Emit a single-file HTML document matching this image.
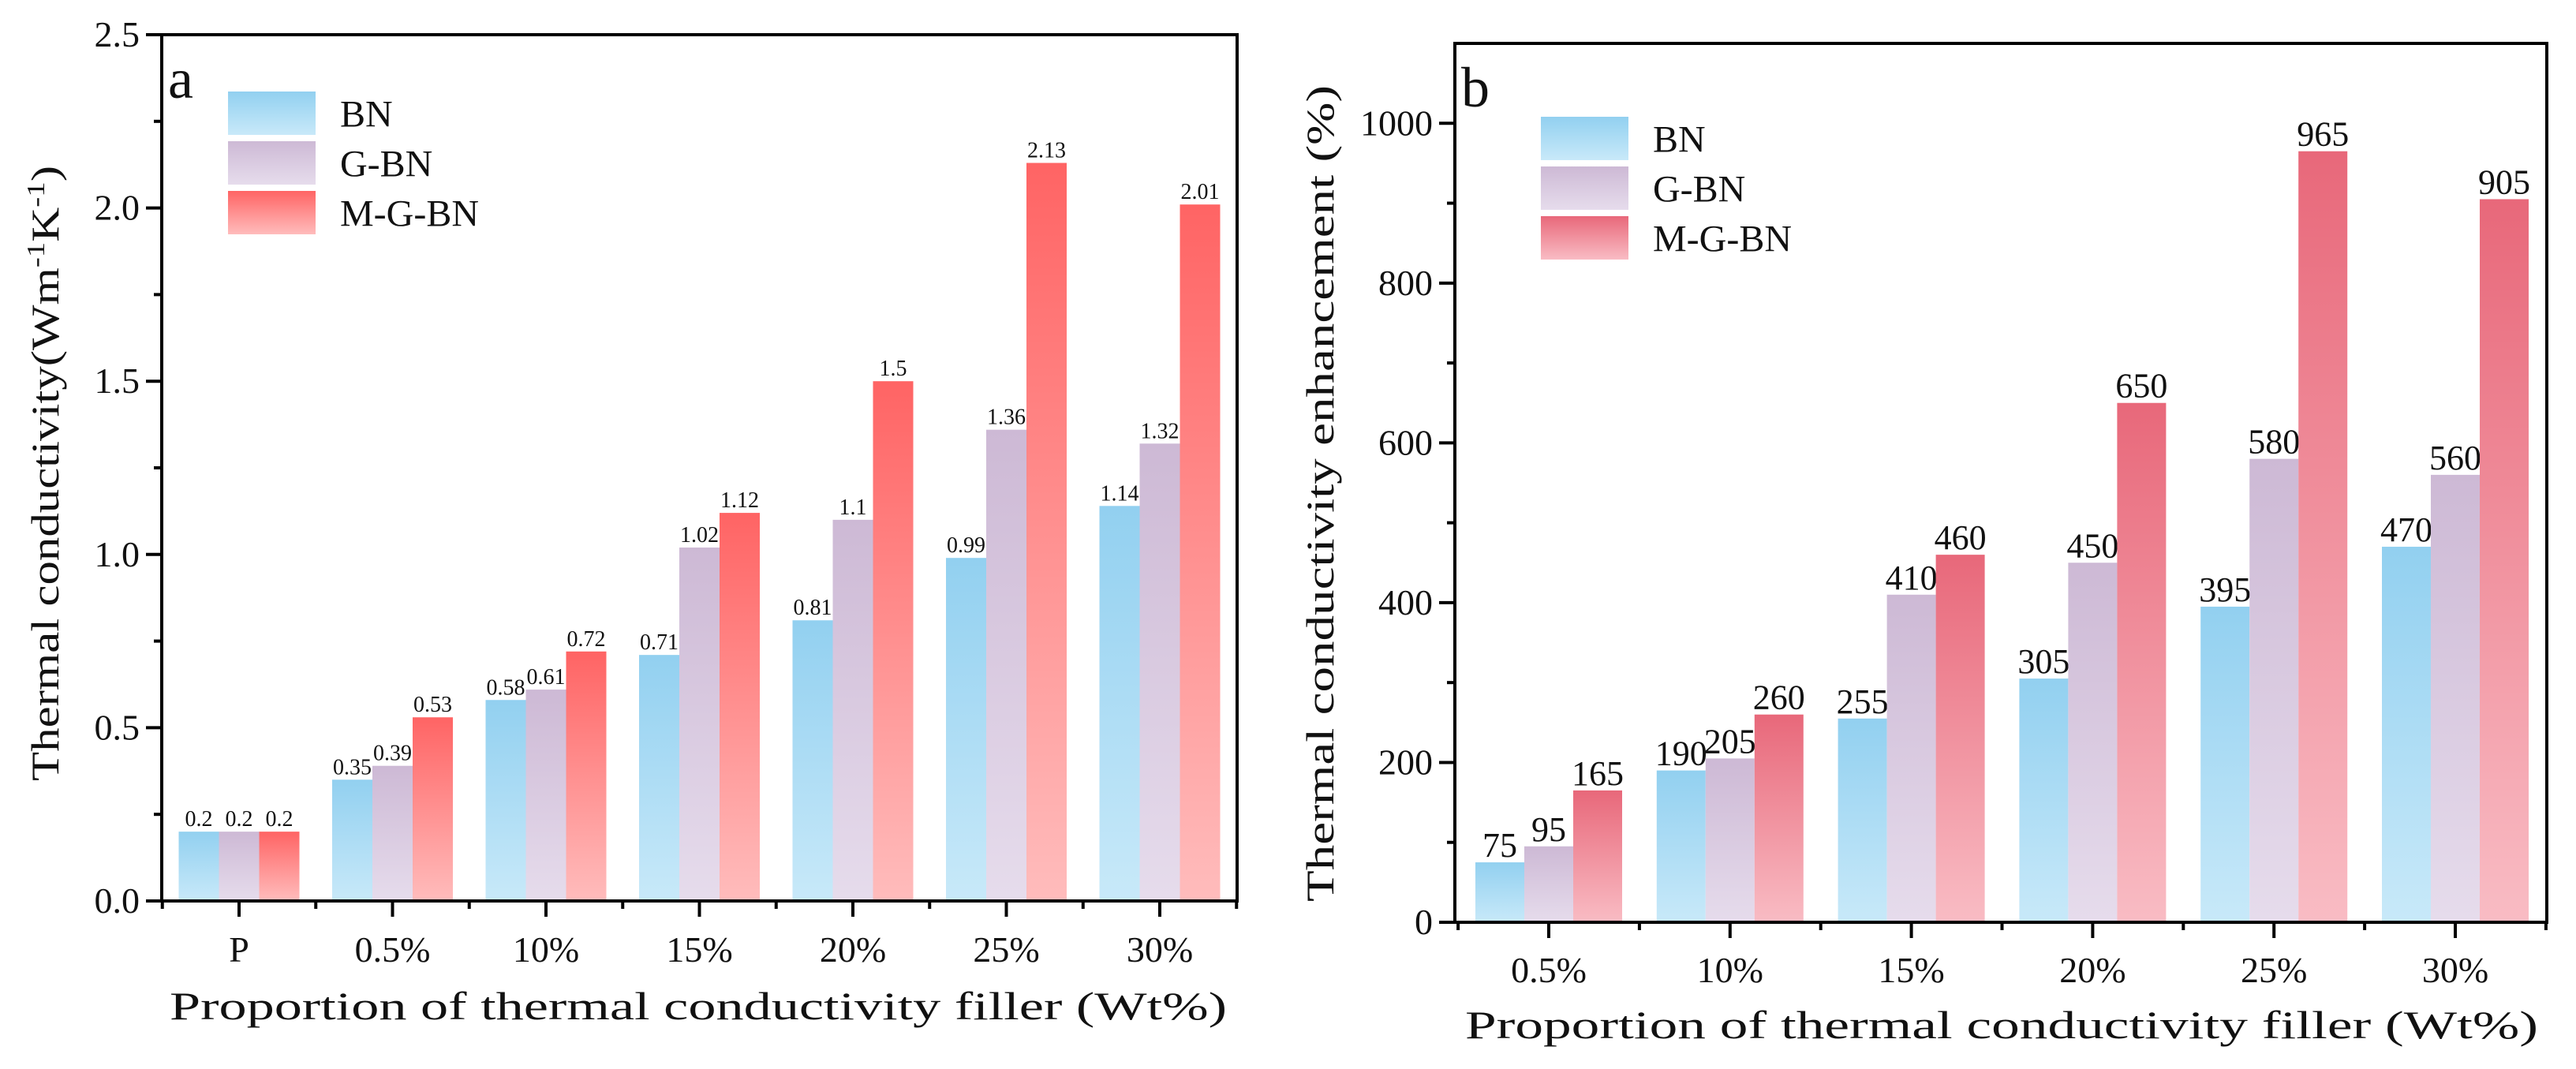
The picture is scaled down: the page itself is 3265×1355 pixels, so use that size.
<!DOCTYPE html>
<html><head><meta charset="utf-8">
<style>
html,body{margin:0;padding:0;background:#fff;}
svg{display:block;}
text{font-family:"Liberation Serif","Noto Serif CJK SC",serif;fill:#111;}
</style></head>
<body>
<svg id="chart" width="3265" height="1355" viewBox="0 0 3265 1355" xmlns="http://www.w3.org/2000/svg">
<defs>
<linearGradient id="gBN" x1="0" y1="0" x2="0" y2="1"><stop offset="0" stop-color="#92d0f0"/><stop offset="1" stop-color="#c8e9f9"/></linearGradient>
<linearGradient id="gGBN" x1="0" y1="0" x2="0" y2="1"><stop offset="0" stop-color="#cdb9d5"/><stop offset="1" stop-color="#e6dcec"/></linearGradient>
<linearGradient id="gMA" x1="0" y1="0" x2="0" y2="1"><stop offset="0" stop-color="#ff6464"/><stop offset="1" stop-color="#ffbcbc"/></linearGradient>
<linearGradient id="gMB" x1="0" y1="0" x2="0" y2="1"><stop offset="0" stop-color="#e8687a"/><stop offset="1" stop-color="#f9bcc4"/></linearGradient>
</defs>
</svg>
<script>
// ---- Chart a data ----
const catsA = ["P","0.5%","10%","15%","20%","25%","30%"];
const bnA = [0.2,0.35,0.58,0.71,0.81,0.99,1.14];
const gbnA = [0.2,0.39,0.61,1.02,1.1,1.36,1.32];
const mgbnA = [0.2,0.53,0.72,1.12,1.5,2.13,2.01];
const ticksA = [0,0.5,1.0,1.5,2.0,2.5];
const tickLabelsA = ["0.0","0.5","1.0","1.5","2.0","2.5"];
// ---- Chart b data ----
const catsB = ["0.5%","10%","15%","20%","25%","30%"];
const bnB = [75,190,255,305,395,470];
const gbnB = [95,205,410,450,580,560];
const mgbnB = [165,260,460,650,965,905];
const ticksB = [0,200,400,600,800,1000];
const tickLabelsB = ["0","200","400","600","800","1000"];
const seriesNames = ["BN","G-BN","M-G-BN"];

const NS="http://www.w3.org/2000/svg";
const svg=document.getElementById('chart');
function el(tag,attrs,parent,txt){const e=document.createElementNS(NS,tag);for(const k in attrs)e.setAttribute(k,attrs[k]);if(txt!==undefined)e.textContent=txt;(parent||svg).appendChild(e);return e;}

function drawChart(cfg){
  const g=el('g',{});
  
  
  const L=cfg.left,R=cfg.right,T=cfg.top,B=cfg.bottom;
  const yS=v=>B-(v-cfg.ymin)/(cfg.ymax-cfg.ymin)*(B-T);
  const n=cfg.cats.length;
  const xC=i=>cfg.c0+i*cfg.step;
  const series=[cfg.s1,cfg.s2,cfg.s3];
  const fills=["url(#gBN)","url(#gGBN)",cfg.mfill];
  for(let i=0;i<n;i++){
    for(let s=0;s<3;s++){
      const v=series[s][i];
      const x=xC(i)-1.5*cfg.bw+s*cfg.bw;
      const r=el('rect',{x:x,y:yS(v),width:cfg.bw,height:B-yS(v),fill:fills[s]},g);
      
      
      const t=el('text',{x:x+cfg.bw/2,y:yS(v)-7,'text-anchor':'middle','font-size':cfg.vfs},g,String(v));
      
      
    }
  }
  const fr=el('rect',{x:L,y:T,width:R-L,height:B-T,fill:'none',stroke:'#000','stroke-width':4},g);
  
  
  for(let k=0;k<cfg.ticks.length;k++){
    const y=yS(cfg.ticks[k]);
    el('line',{x1:L-20,x2:L,y1:y,y2:y,stroke:'#000','stroke-width':4},g);
    const t=el('text',{x:L-28,y:y+15,'text-anchor':'end','font-size':46},g,cfg.tickLabels[k]);
    
    
    if(k<cfg.ticks.length-1){
      const ym=yS((cfg.ticks[k]+cfg.ticks[k+1])/2);
      el('line',{x1:L-10,x2:L,y1:ym,y2:ym,stroke:'#000','stroke-width':4},g);
    }
  }
  for(let i=0;i<n;i++){
    el('line',{x1:xC(i),x2:xC(i),y1:B,y2:B+20,stroke:'#000','stroke-width':4},g);
    el('line',{x1:xC(i)-cfg.step/2,x2:xC(i)-cfg.step/2,y1:B,y2:B+10,stroke:'#000','stroke-width':4},g);
    const t=el('text',{x:xC(i),y:cfg.xly,'text-anchor':'middle','font-size':46},g,cfg.cats[i]);
    
    
  }
  el('line',{x1:xC(n-1)+cfg.step/2,x2:xC(n-1)+cfg.step/2,y1:B,y2:B+10,stroke:'#000','stroke-width':4},g);
  const xt=el('text',{x:cfg.xtx,y:cfg.xty,'font-size':50,'font-family':'"Liberation Mono",monospace',textLength:cfg.xtl,lengthAdjust:'spacingAndGlyphs'},g,'Proportion of thermal conductivity filler (Wt%)');
  
  
  const yt=el('text',{x:0,y:0,'font-size':50,'font-family':'"Liberation Mono",monospace',transform:'translate('+cfg.ytx+','+cfg.yty+') rotate(-90)'},g);
  
  
  cfg.ytitle(yt);
  const pl=el('text',{x:L+8,y:T+80,'font-size':72},g,cfg.letter);
  
  
  for(let s=0;s<3;s++){
    const y=cfg.legY+s*cfg.legStep;
    const r=el('rect',{x:cfg.legX,y:y,width:111,height:cfg.legH,fill:fills[s]},g);
    
    
    const t=el('text',{x:cfg.legX+142,y:y+cfg.legH/2+17,'font-size':48},g,seriesNames[s]);
    
    
  }
}

drawChart({name:'chart-a',left:205,right:1568,top:44,bottom:1142,ymin:0,ymax:2.5,
  cats:catsA,c0:303,step:194.5,bw:51,s1:bnA,s2:gbnA,s3:mgbnA,mfill:'url(#gMA)',vfs:28,
  ticks:ticksA,tickLabels:tickLabelsA,xly:1219,xtx:215,xty:1292,xtl:1340,
  ytx:74,yty:990,ytitle:function(t){
    t.setAttribute('textLength','780');
    t.setAttribute('lengthAdjust','spacingAndGlyphs');
    const a=document.createElementNS(NS,'tspan');a.textContent='Thermal conductivity(Wm';t.appendChild(a);
    const b=document.createElementNS(NS,'tspan');b.setAttribute('dy','-18');b.setAttribute('font-size','32');b.textContent='-1';t.appendChild(b);
    const c=document.createElementNS(NS,'tspan');c.setAttribute('dy','18');c.textContent='K';t.appendChild(c);
    const d=document.createElementNS(NS,'tspan');d.setAttribute('dy','-18');d.setAttribute('font-size','32');d.textContent='-1';t.appendChild(d);
    const e=document.createElementNS(NS,'tspan');e.setAttribute('dy','18');e.textContent=')';t.appendChild(e);
  },
  letter:'a',legX:289,legY:116,legStep:63,legH:55});

drawChart({name:'chart-b',left:1844,right:3228,top:55,bottom:1169,ymin:0,ymax:1100,
  cats:catsB,c0:1963,step:229.8,bw:62,s1:bnB,s2:gbnB,s3:mgbnB,mfill:'url(#gMB)',vfs:44,
  ticks:ticksB,tickLabels:tickLabelsB,xly:1245,xtx:1857,xty:1316,xtl:1360,
  ytx:1690,yty:1143,ytitle:function(t){t.textContent='Thermal conductivity enhancement (%)';t.setAttribute('textLength','1035');t.setAttribute('lengthAdjust','spacingAndGlyphs');},
  letter:'b',legX:1953,legY:148,legStep:63,legH:55});
</script>
</body></html>
